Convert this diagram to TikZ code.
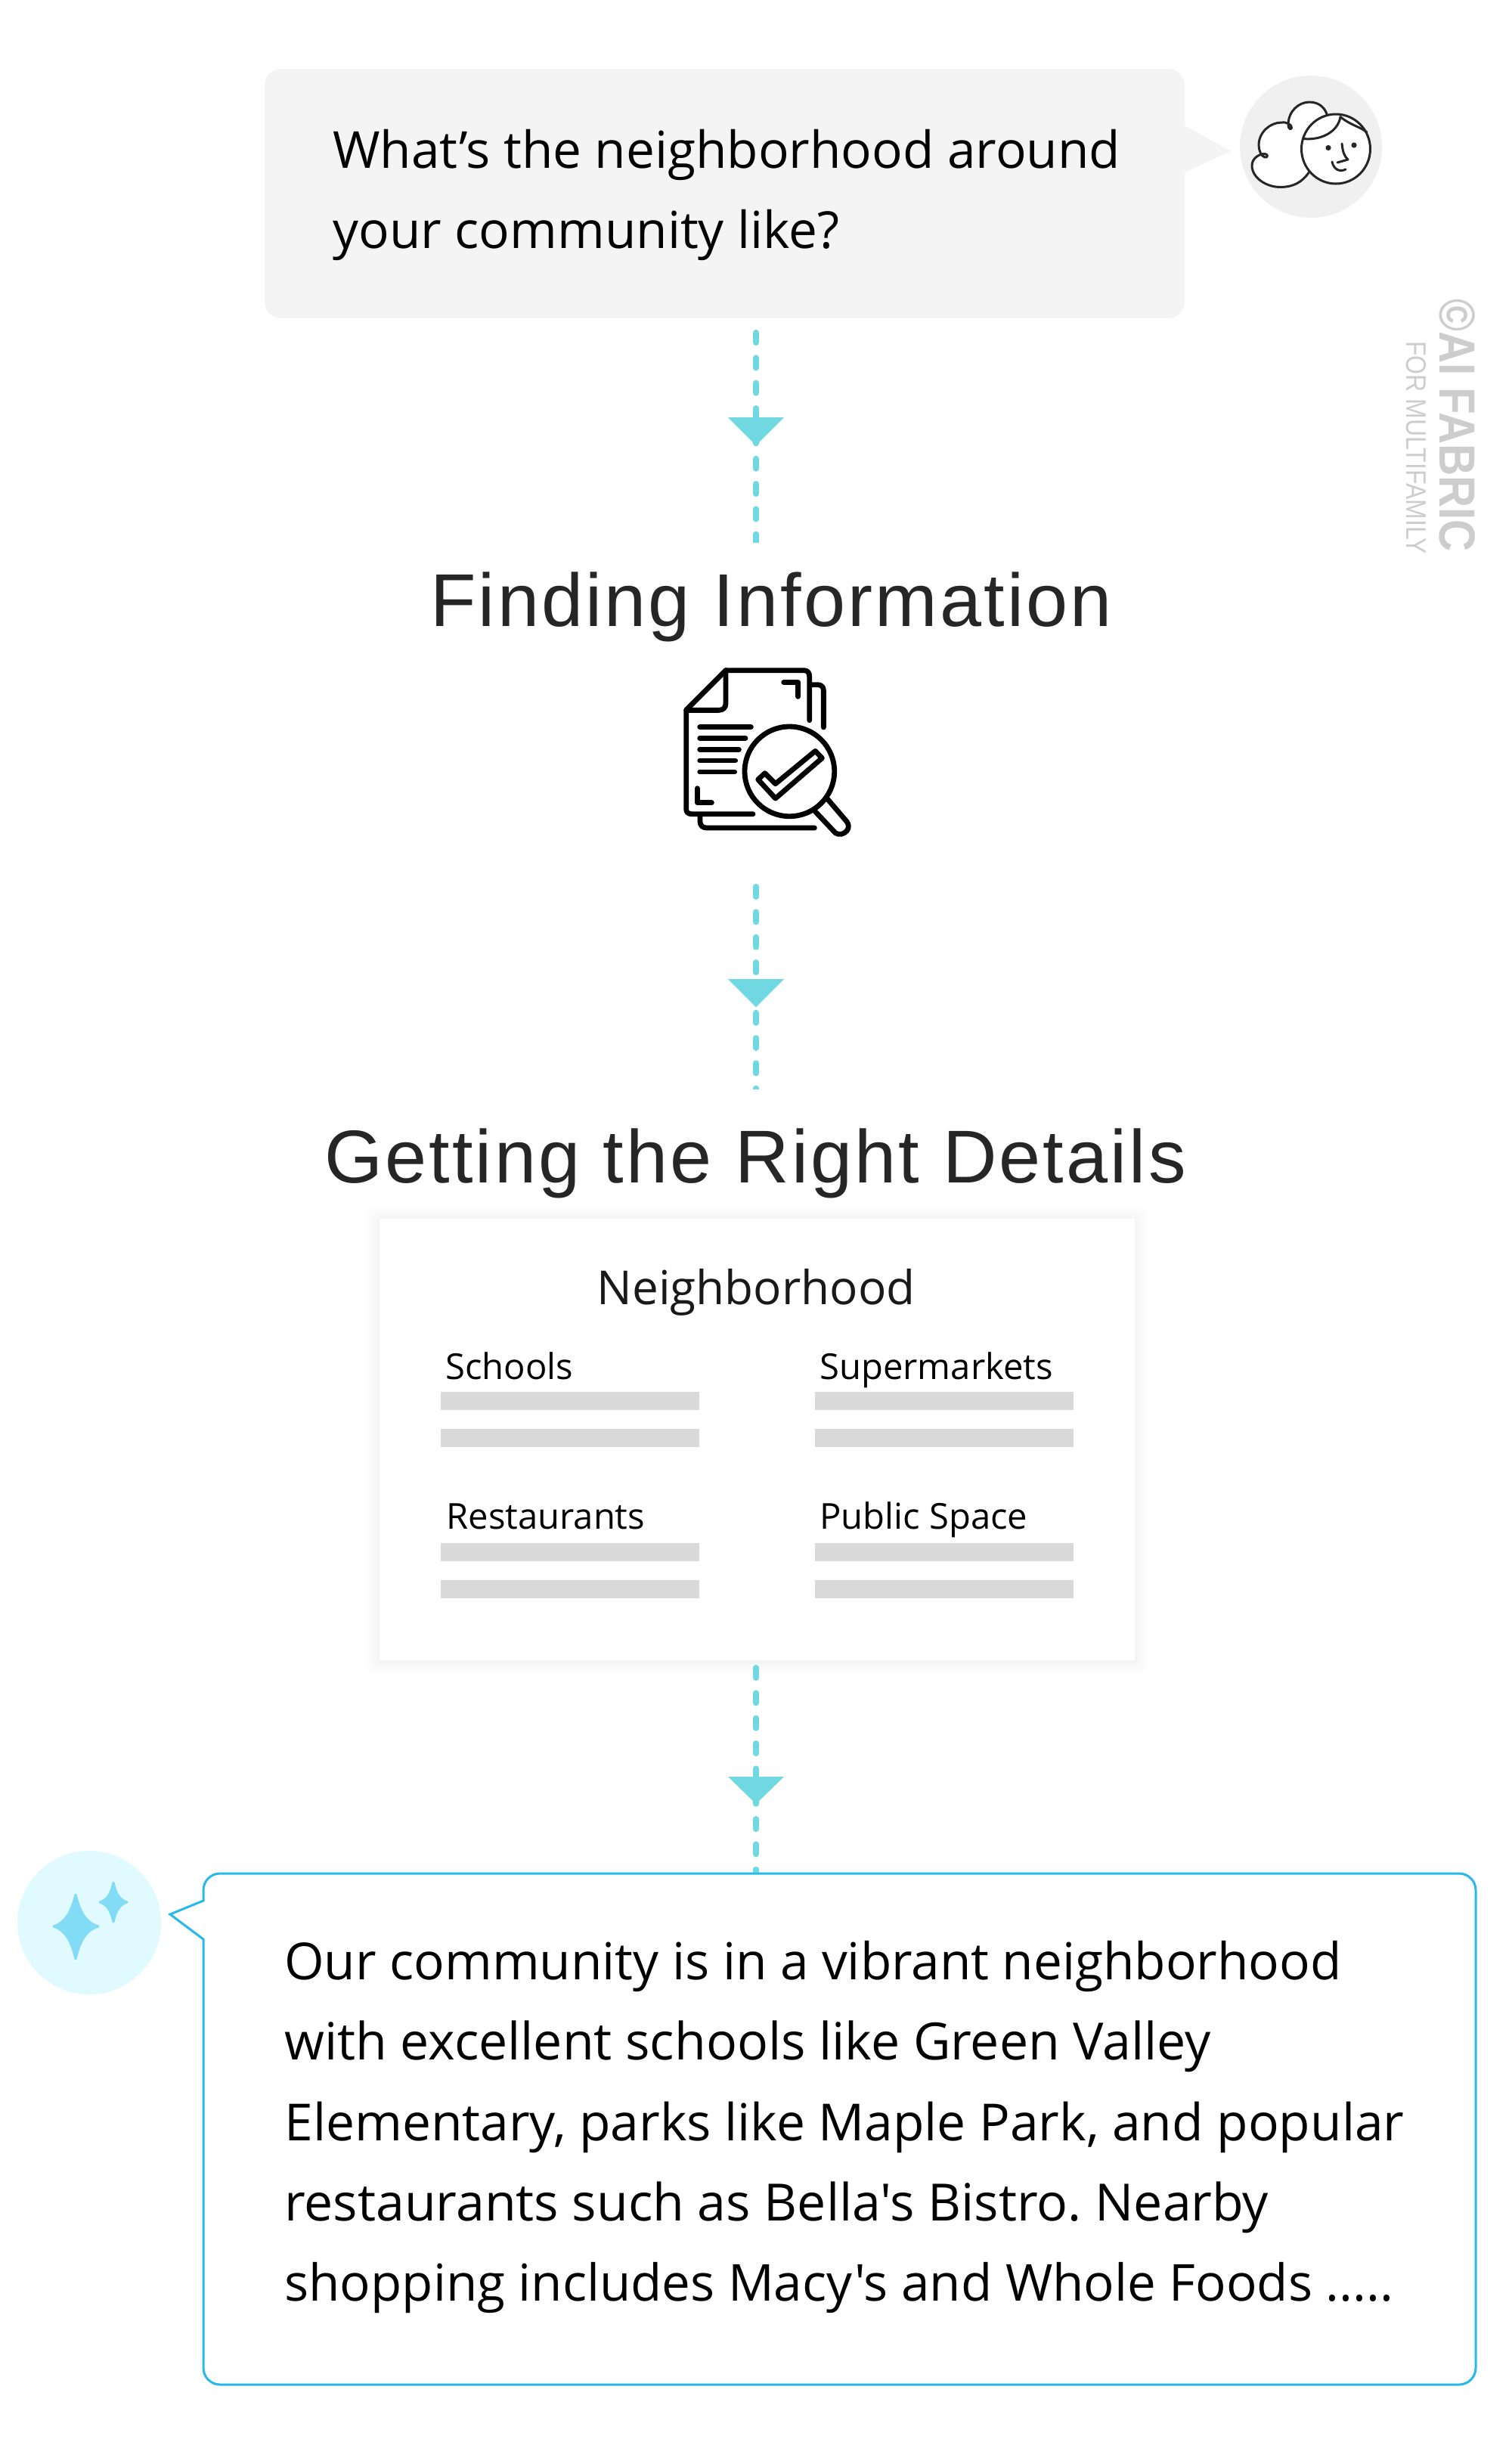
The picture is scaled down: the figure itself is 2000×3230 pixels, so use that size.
\documentclass[tikz,border=0pt]{standalone}
\usepackage{fontspec}
\setmainfont{Open Sans}[Ligatures=TeXOff]
\newfontfamily\wm{Liberation Sans}
\newfontfamily\tf{Liberation Sans}[LetterSpace=3.2]
\usetikzlibrary{calc}
\definecolor{teal}{HTML}{70D8E0}
\definecolor{bubble}{HTML}{F4F4F4}
\definecolor{avatar}{HTML}{F0F0F0}
\definecolor{blue}{HTML}{28B9EC}
\definecolor{lightblue}{HTML}{E0FAFF}
\definecolor{spark}{HTML}{83DCF6}
\definecolor{bar}{HTML}{D9D9D9}
\definecolor{ink}{HTML}{262626}
\definecolor{wmc}{HTML}{CDCDCD}
\newcommand{\fs}[1]{\fontsize{#1}{#1}\selectfont}
\tikzset{
 x=0.5pt,y=-0.5pt,
 flow/.style={draw=teal,line width=4pt,line cap=round,dash pattern=on 6.5pt off 10.17pt},
 tip/.style={fill=teal,draw=none},
 body/.style={anchor=base west,inner sep=0pt,text=black,font=\fs{33.75}},
 title/.style={anchor=base,inner sep=0pt,text=ink,font=\tf\fs{49.5}},
 lab/.style={anchor=base west,inner sep=0pt,text=black,font=\fs{23.6}},
 barr/.style={fill=bar,draw=none},
 icon/.style={draw=black,line width=3.4pt,line cap=round,line join=round},
 face/.style={draw=black!85,line width=1.5pt,line cap=round,line join=round},
 sparkle/.style={fill=spark,draw=spark,line width=1.5pt,line join=round},
}
\begin{document}
\frenchspacing
\begin{tikzpicture}
\useasboundingbox (0,0) rectangle (2000,3230);
\fill[white] (0,0) rectangle (2000,3230);
% top bubble
\fill[bubble,rounded corners=11pt] (350,91) rectangle (1567,421);
\fill[bubble] (1567,166) -- (1628,200) -- (1567,228) -- cycle;
\node[body] (q1) at (440,222) {What’s the neighborhood around};
\node[body] (q2) at (440,328) {your community like?};
% avatar
\fill[avatar] (1734,194) circle (94);
\draw[face,fill=white] (1732,227) .. controls (1722,242) and (1710,247) .. (1695,247.5)
 .. controls (1675,248) and (1656,235) .. (1656,219) .. controls (1656,208) and (1668,203) .. (1673,203.5)
 .. controls (1678,204) and (1677,209) .. (1673,208) .. controls (1668,207) and (1665,198) .. (1665,192)
 .. controls (1665,175) and (1680,162) .. (1695,162) .. controls (1700,161) and (1709,164) .. (1708.5,169)
 .. controls (1708,172) and (1704,171) .. (1704,165) .. controls (1704,147) and (1718,135) .. (1732,135)
 .. controls (1745,135) and (1754,143) .. (1756,155) -- cycle;
\draw[face,fill=white] (1767,197) ellipse (45.5 and 46);
\draw[face] (1724,183.5) .. controls (1748,186) and (1770,174) .. (1773,154.5);
\draw[face] (1773,154.5) .. controls (1785,165) and (1800,168) .. (1808,175);
\fill[black!85] (1757,195.5) circle (3.6);
\fill[black!85] (1791,192) circle (3.6);
\draw[face] (1775,190) .. controls (1776,200) and (1778,207) .. (1783,211) -- (1769,215);
\draw[face] (1762,214) .. controls (1764,224) and (1772,228) .. (1780,224);
% watermark
\node[inner sep=0pt,rotate=-90,anchor=base west,text=wmc,font=\wm\bfseries\fs{33.6}] (wm1) at (1904,395) {\scalebox{.868}[1]{©AI FABRIC}};
\node[inner sep=0pt,rotate=-90,anchor=base west,text=wmc,font=\wm\fs{18.7}] (wm2) at (1860,451) {\scalebox{.855}[1]{FOR MULTIFAMILY}};
% flow 1
\coordinate (a1) at (1000,440); \coordinate (a2) at (1000,730);
\begin{scope}
\clip (980,420) rectangle (1020,717);
\draw[flow] (a1) -- (a2);
\end{scope}
\fill[tip] (963,552) -- (1037,552) -- (1000,589) -- cycle;
% title 1
\node[title] (t1) at (1020,828) {Finding Information};
% doc icon
\begin{scope}[shift={(860,860)},x=0.1667pt,y=-0.1667pt]
\draw[icon] (300,80) -- (610,80) .. controls (625,80) and (632,90) .. (632,105) -- (632,278);
\draw[icon] (300,80) -- (143,237) -- (143,630) .. controls (143,642) and (150,650) .. (165,650) -- (408,650);
\draw[icon] (300,80) -- (300,210) .. controls (300,228) and (290,238) .. (272,238) -- (143,238);
\draw[icon] (640,137) -- (665,137) .. controls (680,137) and (688,147) .. (688,160) -- (688,306);
\draw[icon] (198,655) -- (198,680) .. controls (198,695) and (208,705) .. (225,705) -- (652,705);
\draw[icon] (530,127) -- (587,127) -- (587,184);
\draw[icon] (187,548) -- (187,605) -- (244,605);
\draw[icon] (197,305) -- (400,305);
\draw[icon] (197,349) -- (378,349);
\draw[icon] (197,394) -- (352,394);
\draw[icon] (197,438) -- (338,438);
\draw[icon] (197,483) -- (335,483);
\draw[icon] (553,481) circle (178);
\draw[icon] (428,513) -- (455,488) -- (497,530) -- (655,400) -- (682,428) -- (497,588) -- cycle;
\draw[icon] (655,640) -- (735,725) .. controls (750,735) and (768,730) .. (780,717) .. controls (790,705) and (788,690) .. (780,680) -- (705,592);
\end{scope}
% flow 2
\coordinate (b1) at (1000,1173); \coordinate (b2) at (1000,1460);
\begin{scope}
\clip (980,1150) rectangle (1020,1440);
\draw[flow] (b1) -- (b2);
\end{scope}
\fill[tip] (963,1295) -- (1037,1295) -- (1000,1332) -- cycle;
\node[title] (t2) at (999,1564) {Getting the Right Details};
% card shadow
\foreach \g in {18,16,14,12,10,8,6,5,4,3,2,1}{
 \fill[black,opacity=0.005,rounded corners=3pt] (502-\g,1612-\g+2) rectangle (1501+\g,2196+\g+2);
}
\fill[white] (502,1612) rectangle (1501,2196);
\node[anchor=base,inner sep=0pt,text=black!90,font=\fs{31}] (n) at (1000,1725) {Neighborhood};
\node[lab] (l1) at (589,1824) {Schools};
\node[lab] (l2) at (1084,1824) {Supermarkets};
\node[lab] (l3) at (590,2022) {Restaurants};
\node[lab] (l4) at (1084,2022) {Public Space};
\foreach \x in {583,1078}{\foreach \y in {1841,1890,2041,2090}{
 \fill[barr] (\x,\y) rectangle ++(342,24);
}}
% flow 3
\coordinate (c1) at (1000,2206); \coordinate (c2) at (1000,2477);
\draw[flow] (c1) -- (c2);
\fill[tip] (963,2350) -- (1037,2350) -- (1000,2386) -- cycle;
% answer
\draw[blue,line width=1.5pt,fill=white,line join=miter] (269,2514) -- (269,2500) arc[start angle=180,end angle=270,radius=22]
 -- (1930,2478) arc[start angle=-90,end angle=0,radius=22] -- (1952,3132) arc[start angle=0,end angle=90,radius=22]
 -- (291,3154) arc[start angle=90,end angle=180,radius=22] -- (269,2565) -- (225,2532) -- cycle;
\node[body] (a1t) at (376,2618) {Our community is in a vibrant neighborhood};
\node[body,font=\fs{34}] (a2t) at (376,2724.5) {with excellent schools like Green Valley};
\node[body,font=\fs{33.85}] (a3t) at (376,2831) {Elementary, parks like Maple Park, and popular};
\node[body,font=\fs{34}] (a4t) at (376,2937) {restaurants such as Bella's Bistro. Nearby};
\node[body,font=\fs{33.66}] (a5t) at (376,3043) {shopping includes Macy's and Whole Foods .....};
% sparkle
\fill[lightblue] (118,2543) circle (95);
\fill[sparkle] (100,2506) .. controls (106,2530) and (114,2543) .. (130,2548) .. controls (114,2553) and (106,2566) .. (100,2591) .. controls (94,2566) and (86,2553) .. (71,2548) .. controls (86,2543) and (94,2530) .. (100,2506) -- cycle;
\fill[sparkle] (150,2490) .. controls (153,2504) and (158,2513) .. (168,2516) .. controls (158,2519) and (153,2528) .. (150,2542) .. controls (147,2528) and (142,2519) .. (132,2516) .. controls (142,2513) and (147,2504) .. (150,2490) -- cycle;
\end{tikzpicture}
\end{document}
